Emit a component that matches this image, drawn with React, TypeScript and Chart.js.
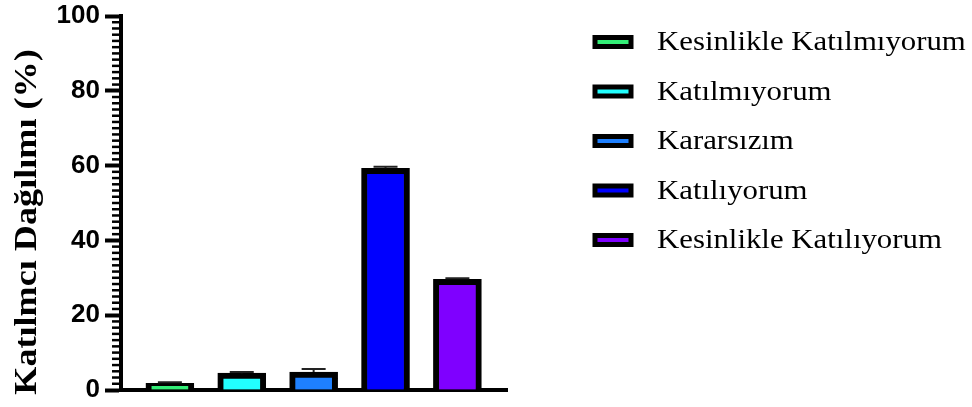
import React, { useEffect, useRef } from "react";
import { Chart, registerables } from "chart.js";

Chart.register(...registerables);

// Response categories and share of participants (%)
const CATEGORIES = [
  "Kesinlikle Katılmıyorum",
  "Katılmıyorum",
  "Kararsızım",
  "Katılıyorum",
  "Kesinlikle Katılıyorum",
];
const PERCENTAGES = [1.8, 4.5, 4.8, 59.3, 29.6];
const ERRORS = [0.3, 0.3, 0.8, 0.4, 0.3];
const COLORS = ["#33EE77", "#22FFFF", "#1E80FF", "#0000FF", "#7F00FF"];
const Y_TICKS = [0, 20, 40, 60, 80, 100];
const Y_TITLE = "Katılmcı Dağılımı (%)";

const MINOR_PER_MAJOR = 12;

const minorTicksPlugin = {
  id: "minorTicks",
  afterDraw(chart: any) {
    const { ctx, chartArea } = chart;
    const y = chart.scales.y;
    const majorStep = Y_TICKS[1] - Y_TICKS[0];
    const total = (Y_TICKS[Y_TICKS.length - 1] / majorStep) * MINOR_PER_MAJOR;
    ctx.save();
    ctx.strokeStyle = "#000";
    ctx.lineWidth = 2.5;
    for (let i = 0; i <= total; i++) {
      if (i % MINOR_PER_MAJOR === 0) continue;
      const py = y.getPixelForValue((i * majorStep) / MINOR_PER_MAJOR);
      ctx.beginPath();
      ctx.moveTo(chartArea.left - 9, py);
      ctx.lineTo(chartArea.left, py);
      ctx.stroke();
    }
    ctx.restore();
  },
};

const errorBarsPlugin = {
  id: "errorBars",
  afterDatasetsDraw(chart: any) {
    const { ctx } = chart;
    const y = chart.scales.y;
    const meta = chart.getDatasetMeta(0);
    ctx.save();
    ctx.strokeStyle = "#222";
    ctx.lineWidth = 2;
    meta.data.forEach((bar: any, i: number) => {
      const top = y.getPixelForValue(PERCENTAGES[i] + ERRORS[i]);
      ctx.beginPath();
      ctx.moveTo(bar.x, bar.y);
      ctx.lineTo(bar.x, top);
      ctx.moveTo(bar.x - 12, top);
      ctx.lineTo(bar.x + 12, top);
      ctx.stroke();
    });
    ctx.restore();
  },
};

const axisTitlePlugin = {
  id: "axisTitle",
  afterDraw(chart: any) {
    const { ctx } = chart;
    ctx.save();
    ctx.translate(28, 222);
    ctx.rotate(-Math.PI / 2);
    ctx.scale(1.13, 1);
    ctx.font = 'bold 32px "Liberation Serif", "Times New Roman", serif';
    ctx.fillStyle = "#000";
    ctx.textAlign = "center";
    ctx.textBaseline = "middle";
    ctx.fillText(Y_TITLE, 0, 0);
    ctx.restore();
  },
};

const sideLegendPlugin = {
  id: "sideLegend",
  afterDraw(chart: any) {
    const { ctx } = chart;
    ctx.save();
    CATEGORIES.forEach((label, i) => {
      const cy = 42 + i * 49.5;
      ctx.fillStyle = COLORS[i];
      ctx.fillRect(595, cy - 4.5, 36, 9);
      ctx.lineWidth = 5;
      ctx.strokeStyle = "#000";
      ctx.strokeRect(595, cy - 4.5, 36, 9);
      ctx.save();
      ctx.translate(657, cy + 1);
      ctx.scale(1.1, 1);
      ctx.font = '28px "Liberation Serif", "Times New Roman", serif';
      ctx.textBaseline = "middle";
      ctx.fillStyle = "#000";
      ctx.fillText(label, 0, 0);
      ctx.restore();
    });
    ctx.restore();
  },
};

export default function App() {
  const canvasRef = useRef<HTMLCanvasElement | null>(null);

  useEffect(() => {
    if (!canvasRef.current) return;
    const chart = new Chart(canvasRef.current, {
      type: "bar",
      data: {
        datasets: [
          {
            data: PERCENTAGES.map((v, i) => ({ x: i, y: v })),
            backgroundColor: COLORS,
            borderColor: "#000",
            borderWidth: 6,
            borderSkipped: "start",
            barThickness: 48,
          },
        ],
      },
      options: {
        responsive: false,
        animation: false,
        devicePixelRatio: 1,
        layout: { padding: { left: 0, top: 16, right: 465, bottom: 17 } },
        plugins: {
          legend: { display: false },
          tooltip: { enabled: false },
        },
        scales: {
          x: {
            type: "linear",
            offset: false,
            min: -0.68,
            max: 4.69,
            z: 1,
            ticks: { display: false },
            grid: { drawOnChartArea: false, drawTicks: false },
            border: { color: "#000", width: 4 },
            afterFit: (s: any) => {
              s.height = 0;
              s.paddingLeft = 0;
              s.paddingRight = 0;
            },
          },
          y: {
            min: 0,
            max: 100,
            afterBuildTicks: (s: any) => {
              s.ticks = Y_TICKS.map((v) => ({ value: v }));
            },
            ticks: {
              font: { family: '"Liberation Sans", Arial, sans-serif', weight: "bold", size: 26 },
              color: "#000",
              padding: 5,
            },
            grid: {
              drawOnChartArea: false,
              drawTicks: true,
              tickLength: 16,
              tickWidth: 4,
              tickColor: "#000",
            },
            border: { color: "#000", width: 4 },
            afterFit: (s: any) => {
              s.width = 121;
              s.paddingTop = 0;
              s.paddingBottom = 0;
            },
          },
        },
      } as any,
      plugins: [minorTicksPlugin, errorBarsPlugin, axisTitlePlugin, sideLegendPlugin],
    });
    return () => chart.destroy();
  }, []);

  return (
    <div style={{ position: "absolute", left: 0, top: 0, width: 972, height: 407, background: "#fff" }}>
      <canvas ref={canvasRef} width={972} height={407} style={{ display: "block" }} />
    </div>
  );
}
